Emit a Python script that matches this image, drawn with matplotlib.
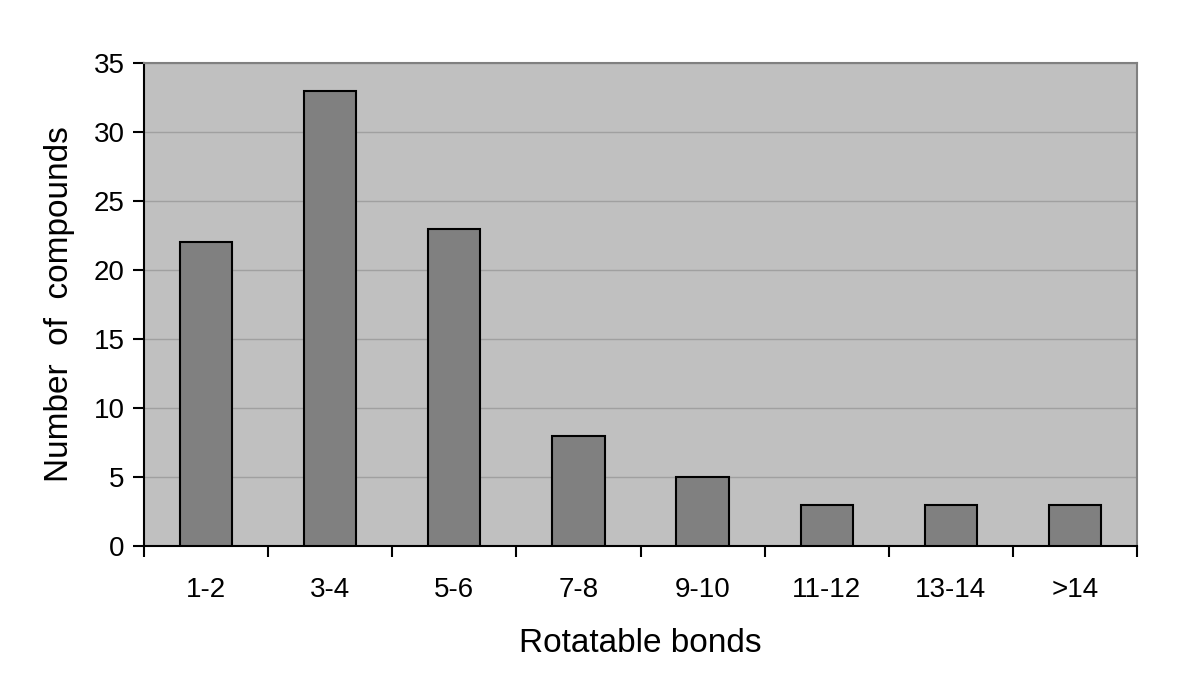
import matplotlib
matplotlib.use("Agg")
import matplotlib.pyplot as plt

plt.rcParams["font.family"] = ["Liberation Sans", "DejaVu Sans"]

categories = ["1-2", "3-4", "5-6", "7-8", "9-10", "11-12", "13-14", ">14"]
counts = [22, 33, 23, 8, 5, 3, 3, 3]

fig = plt.figure(figsize=(12, 6.95), dpi=100)
ax = fig.add_axes([0.12, 0.2144, 0.8275, 0.695])
ax.set_facecolor("#C0C0C0")

x = list(range(len(categories)))
ax.bar(x, counts, width=0.42, color="#808080", edgecolor="black",
       linewidth=1.5, zorder=3)

ax.set_xlim(-0.5, len(categories) - 0.5)
ax.set_ylim(0, 35)
ax.set_yticks(range(0, 36, 5))
ax.grid(axis="y", color="#A0A0A0", linewidth=1, zorder=0)
ax.set_axisbelow(True)

# category labels centred, ticks between categories
ax.set_xticks(x)
ax.set_xticklabels(categories, fontsize=20)
ax.tick_params(axis="x", which="major", length=0, pad=22)
ax.set_xticks([i - 0.5 for i in range(len(categories) + 1)], minor=True)
ax.tick_params(axis="x", which="minor", length=8, width=1.5, direction="out")
ax.tick_params(axis="y", labelsize=20, length=8, width=1.5, pad=6)

for side in ("left", "bottom"):
    ax.spines[side].set_color("black")
    ax.spines[side].set_linewidth(1.5)
for side in ("top", "right"):
    ax.spines[side].set_color("#808080")
    ax.spines[side].set_linewidth(1.5)

ax.set_xlabel("Rotatable bonds", fontsize=24, labelpad=18)
ax.set_ylabel("Number  of  compounds", fontsize=24, labelpad=13)

fig.savefig("out.png", dpi=100, facecolor="white")
plt.close(fig)
